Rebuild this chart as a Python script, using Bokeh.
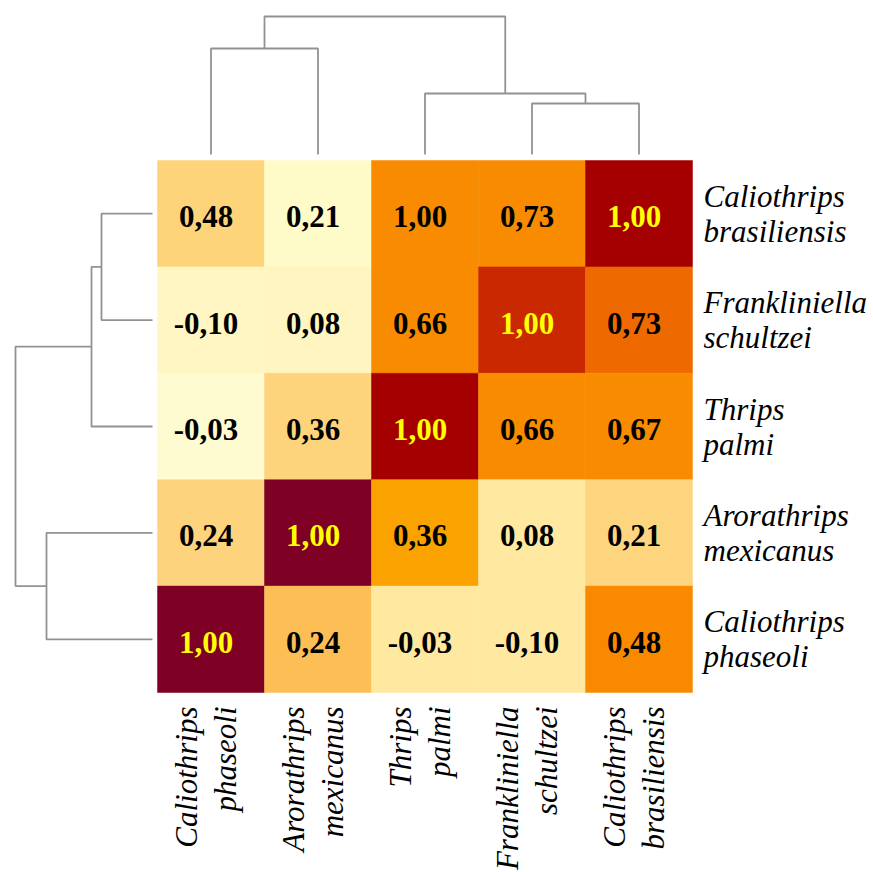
from bokeh.plotting import figure
from bokeh.models import Range1d, ColumnDataSource
from bokeh.embed import file_html
from bokeh.resources import INLINE
from bokeh.core.properties import value
import math

# ---------------- data ----------------
col_species = ["Caliothrips phaseoli", "Arorathrips mexicanus", "Thrips palmi",
               "Frankliniella schultzei", "Caliothrips brasiliensis"]      # left -> right
row_species = ["Caliothrips brasiliensis", "Frankliniella schultzei", "Thrips palmi",
               "Arorathrips mexicanus", "Caliothrips phaseoli"]          # top -> bottom

values = [
    [0.48, 0.21, 1.00, 0.73, 1.00],
    [-0.10, 0.08, 0.66, 1.00, 0.73],
    [-0.03, 0.36, 1.00, 0.66, 0.67],
    [0.24, 1.00, 0.36, 0.08, 0.21],
    [1.00, 0.24, -0.03, -0.10, 0.48],
]

cell_colors = [
    ["#FDD479", "#FFFBC8", "#F98B00", "#F98B00", "#A50000"],
    ["#FFF6C3", "#FFF5C0", "#F98B00", "#CA2800", "#EE6A00"],
    ["#FFFBD0", "#FDD47C", "#A40000", "#F98B00", "#F98B00"],
    ["#FDD47D", "#7E0025", "#F9A200", "#FFE8A0", "#FDD57E"],
    ["#7E0025", "#FDBE56", "#FFE8A0", "#FFE8A0", "#F98A00"],
]

# dendrogram links: (cluster a, cluster b, height); new clusters numbered from 5
col_links = [(3, 4, 0.51), (2, 5, 0.61), (0, 1, 1.06), (7, 6, 1.38)]
row_links = [(0, 1, 0.51), (5, 2, 0.61), (3, 4, 1.06), (6, 7, 1.37)]

# ---------------- layout ----------------
W, H = 871, 870
CW, CH = 107.0, 106.4            # cell size in px
X0, Y0 = 157.0, 692.0            # px of grid left / bottom

p = figure(width=W, height=H, output_backend="svg", toolbar_location=None,
           x_range=Range1d(-X0 / CW, (W - X0) / CW),
           y_range=Range1d(-(H - Y0) / CH, Y0 / CH),
           min_border=0)
p.axis.visible = False
p.grid.visible = False
p.outline_line_color = None
p.background_fill_color = "white"
p.border_fill_color = "white"

n = len(col_species)

# cells
xs, ys, cols, txt, tcol = [], [], [], [], []
for r in range(n):
    for c in range(n):
        xs.append(c + 0.5)
        ys.append(n - 0.5 - r)
        cols.append(cell_colors[r][c])
        txt.append(f"{values[r][c]:.2f}".replace(".", ","))
        tcol.append("#FFFF00" if row_species[r] == col_species[c] else "black")
src = ColumnDataSource(dict(x=xs, y=ys, fill=cols, text=txt, tcol=tcol))
p.rect(x="x", y="y", width=1, height=1, source=src, fill_color="fill",
       line_color="fill", line_width=0.5)
p.text(x="x", y="y", text="text", source=src, text_color="tcol",
       text_font=value("Liberation Serif"), text_font_style="bold",
       text_font_size="31px", text_align="center", text_baseline="middle",
       x_offset=-5, y_offset=3)


def dendro_segments(leaf_pos, links):
    pos = list(leaf_pos)
    hgt = [0.0] * len(leaf_pos)
    segs = []
    for a, b, h in links:
        segs.append(([pos[a], pos[a], pos[b], pos[b]], [hgt[a], h, h, hgt[b]]))
        pos.append((pos[a] + pos[b]) / 2.0)
        hgt.append(h)
    return segs


DEND_PX = 100.0  # px per height unit
line_kw = dict(line_color="#929292", line_width=1.8)

# top dendrogram
top_base = (692.0 - 154.0) / CH
segs = dendro_segments([c + 0.5 for c in range(n)], col_links)
p.multi_line(xs=[s[0] for s in segs],
             ys=[[top_base + h * DEND_PX / CH for h in s[1]] for s in segs], **line_kw)

# left dendrogram
left_base = (152.0 - 157.0) / CW
segs = dendro_segments([n - 0.5 - r for r in range(n)], row_links)
p.multi_line(xs=[[left_base - h * DEND_PX / CW for h in s[1]] for s in segs],
             ys=[s[0] for s in segs], **line_kw)

lab_kw = dict(text_font=value("Liberation Serif"), text_font_style="italic",
              text_font_size="31px", text_color="black", text_baseline="middle")

# row labels (right)
rx = (703.0 - 157.0) / CW
first = [s.split()[0] for s in row_species]
second = [s.split()[1] for s in row_species]
ry = [n - 0.5 - r for r in range(n)]
p.text(x=[rx] * n, y=ry, text=first, text_align="left", y_offset=-17.5, **lab_kw)
p.text(x=[rx] * n, y=ry, text=second, text_align="left", y_offset=17.5, **lab_kw)

# column labels (bottom, rotated)
cy = (692.0 - 706.0) / CH
cx = [c + 0.5 for c in range(n)]
cfirst = [s.split()[0] for s in col_species]
csecond = [s.split()[1] for s in col_species]
p.text(x=cx, y=[cy] * n, text=cfirst, angle=math.pi / 2, text_align="right",
       x_offset=-25, **lab_kw)
p.text(x=cx, y=[cy] * n, text=csecond, angle=math.pi / 2, text_align="right",
       x_offset=14, **lab_kw)

open("out.html", "w").write(file_html(p, INLINE))
